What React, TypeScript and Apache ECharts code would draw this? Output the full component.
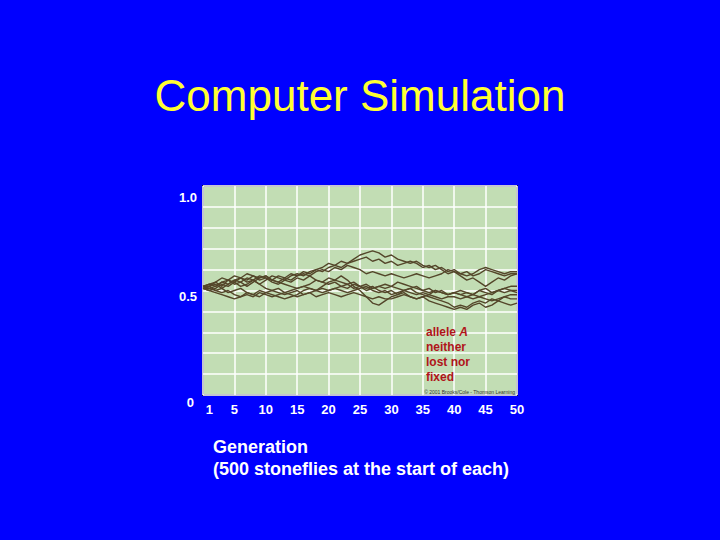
import React, { useEffect, useRef } from "react";
import * as echarts from "echarts";

const generations: number[] = Array.from({ length: 51 }, (_, i) => i);
const xTickLabels: number[] = [1, 5, 10, 15, 20, 25, 30, 35, 40, 45, 50];
const yTickLabels: number[] = [0, 0.5, 1];

const run1 = [0.51,0.52,0.53,0.51,0.53,0.55,0.54,0.56,0.55,0.57,0.56,0.55,0.57,0.56,0.58,0.57,0.59,0.58,0.60,0.61,0.63,0.62,0.64,0.63,0.65,0.67,0.68,0.69,0.68,0.66,0.67,0.65,0.64,0.63,0.64,0.62,0.61,0.62,0.60,0.58,0.59,0.57,0.55,0.56,0.54,0.52,0.54,0.56,0.55,0.57,0.58];
const run2 = [0.51,0.51,0.52,0.54,0.53,0.55,0.56,0.54,0.55,0.53,0.55,0.57,0.56,0.55,0.57,0.58,0.57,0.59,0.60,0.59,0.61,0.62,0.61,0.63,0.64,0.65,0.66,0.64,0.65,0.63,0.64,0.62,0.63,0.64,0.63,0.61,0.62,0.60,0.61,0.59,0.60,0.58,0.59,0.57,0.58,0.60,0.59,0.58,0.57,0.58,0.58];
const run3 = [0.52,0.53,0.52,0.54,0.55,0.53,0.54,0.52,0.54,0.56,0.57,0.55,0.54,0.56,0.55,0.57,0.58,0.57,0.59,0.60,0.59,0.61,0.60,0.62,0.61,0.60,0.58,0.59,0.58,0.57,0.58,0.57,0.56,0.57,0.58,0.57,0.56,0.57,0.58,0.60,0.59,0.58,0.57,0.58,0.60,0.61,0.60,0.59,0.58,0.59,0.59];
const run4 = [0.51,0.50,0.51,0.53,0.52,0.54,0.52,0.53,0.55,0.53,0.51,0.50,0.51,0.49,0.50,0.51,0.52,0.53,0.55,0.54,0.56,0.55,0.57,0.55,0.52,0.50,0.47,0.44,0.43,0.45,0.47,0.48,0.50,0.51,0.49,0.48,0.47,0.46,0.45,0.44,0.42,0.43,0.42,0.44,0.45,0.44,0.46,0.45,0.47,0.48,0.48];
const run5 = [0.51,0.52,0.50,0.49,0.50,0.48,0.47,0.49,0.48,0.47,0.49,0.48,0.47,0.46,0.47,0.48,0.50,0.51,0.50,0.52,0.54,0.55,0.54,0.53,0.54,0.52,0.51,0.52,0.50,0.49,0.50,0.48,0.49,0.47,0.46,0.47,0.45,0.44,0.43,0.42,0.41,0.42,0.41,0.43,0.44,0.42,0.43,0.45,0.44,0.43,0.44];
const run6 = [0.52,0.51,0.50,0.51,0.49,0.50,0.51,0.49,0.48,0.50,0.49,0.50,0.49,0.48,0.49,0.50,0.48,0.49,0.50,0.49,0.50,0.51,0.50,0.49,0.50,0.51,0.52,0.50,0.49,0.50,0.48,0.49,0.50,0.49,0.48,0.49,0.48,0.50,0.49,0.48,0.49,0.50,0.49,0.48,0.50,0.51,0.49,0.50,0.51,0.50,0.50];
const run7 = [0.52,0.53,0.54,0.52,0.55,0.54,0.56,0.55,0.57,0.56,0.57,0.55,0.54,0.53,0.52,0.51,0.52,0.51,0.50,0.51,0.50,0.51,0.52,0.51,0.53,0.52,0.53,0.51,0.52,0.53,0.52,0.51,0.50,0.51,0.52,0.50,0.49,0.50,0.49,0.48,0.49,0.48,0.47,0.48,0.47,0.48,0.49,0.50,0.51,0.52,0.52];
const run8 = [0.51,0.50,0.49,0.48,0.47,0.46,0.47,0.48,0.47,0.49,0.48,0.47,0.48,0.49,0.48,0.47,0.48,0.49,0.47,0.48,0.49,0.48,0.47,0.48,0.49,0.48,0.47,0.46,0.47,0.46,0.46,0.47,0.48,0.47,0.46,0.47,0.48,0.47,0.46,0.47,0.47,0.46,0.47,0.46,0.47,0.46,0.45,0.46,0.47,0.46,0.46];
const run9 = [0.52,0.52,0.54,0.56,0.55,0.57,0.56,0.58,0.57,0.55,0.56,0.54,0.53,0.55,0.54,0.56,0.55,0.57,0.55,0.54,0.53,0.54,0.52,0.53,0.51,0.52,0.50,0.51,0.52,0.51,0.52,0.54,0.53,0.52,0.51,0.50,0.51,0.49,0.50,0.48,0.49,0.48,0.49,0.48,0.50,0.49,0.48,0.50,0.49,0.50,0.49];

const runs: number[][] = [run1, run2, run3, run4, run5, run6, run7, run8, run9];

const FONT = "Liberation Sans, Arial, Helvetica, sans-serif";

export default function App() {
  const ref = useRef<HTMLDivElement>(null);
  useEffect(() => {
    if (!ref.current) return;
    const chart = echarts.init(ref.current, undefined, { renderer: "svg" });
    const series = runs.map((r, k) => ({
      type: "line",
      name: "run " + (k + 1),
      data: r.map((v, i) => [generations[i], v]),
      showSymbol: false,
      symbol: "none",
      lineStyle: { color: "#54462a", width: 1.4 },
      z: 3,
    }));
    const lbl = { color: "#FFFFFF", fontWeight: "bold", fontSize: 13, fontFamily: FONT };
    chart.setOption({
      animation: false,
      backgroundColor: "#0000FF",
      grid: {
        left: 203,
        top: 186,
        width: 314,
        height: 209,
        show: true,
        backgroundColor: "#C2DDB4",
        borderColor: "#14144a",
        borderWidth: 2,
      },
      xAxis: {
        type: "value",
        min: 0,
        max: 50,
        interval: 5,
        axisLine: { show: false },
        axisTick: { show: false },
        splitLine: { show: true, lineStyle: { color: "#FFFFFF", width: 1.5 } },
        axisLabel: {
          customValues: xTickLabels,
          ...lbl,
          margin: 8,
        },
      },
      yAxis: {
        type: "value",
        min: 0,
        max: 1,
        interval: 0.1,
        axisLine: { show: false },
        axisTick: { show: false },
        splitLine: { show: true, lineStyle: { color: "#FFFFFF", width: 1.5 } },
        axisLabel: {
          customValues: yTickLabels,
          margin: 6,
          formatter: (v: number) => {
            if (v === 0) return "{z|0}";
            if (v === 1) return "{t|1.0}";
            return "{h|0.5}";
          },
          rich: {
            z: { ...lbl, padding: [14, 3, 0, 0] },
            t: { ...lbl, padding: [22, 0, 0, 0] },
            h: { ...lbl, padding: [11, 0, 0, 0] },
          },
        },
      },
      series,
      graphic: [
        {
          type: "text",
          x: 360,
          y: 95,
          style: {
            text: "Computer Simulation",
            fill: "#FFFF33",
            font: `44px ${FONT}`,
            align: "center",
            verticalAlign: "middle",
          },
        },
        {
          type: "text",
          x: 426,
          y: 324,
          z: 10,
          style: {
            text: "{b|allele }{i|A}\n{b|neither}\n{b|lost nor}\n{b|fixed}",
            rich: {
              b: { fill: "#B0141A", fontWeight: "bold", fontSize: 12, fontFamily: FONT, lineHeight: 15 },
              i: { fill: "#B0141A", fontWeight: "bold", fontStyle: "italic", fontSize: 12, fontFamily: FONT, lineHeight: 15 },
            },
            align: "left",
            verticalAlign: "top",
          },
        },
        {
          type: "text",
          x: 515,
          y: 392,
          z: 10,
          style: {
            text: "© 2001 Brooks/Cole - Thomson Learning",
            fill: "#333333",
            font: `5px ${FONT}`,
            align: "right",
            verticalAlign: "middle",
          },
        },
        {
          type: "text",
          x: 213,
          y: 447,
          style: {
            text: "Generation",
            fill: "#FFFFFF",
            font: `bold 18px ${FONT}`,
            align: "left",
            verticalAlign: "middle",
          },
        },
        {
          type: "text",
          x: 213,
          y: 469,
          style: {
            text: "(500 stoneflies at the start of each)",
            fill: "#FFFFFF",
            font: `bold 18px ${FONT}`,
            align: "left",
            verticalAlign: "middle",
          },
        },
      ],
    });
    return () => chart.dispose();
  }, []);
  return (
    <div
      ref={ref}
      style={{ position: "fixed", left: 0, top: 0, width: 720, height: 540 }}
    />
  );
}
